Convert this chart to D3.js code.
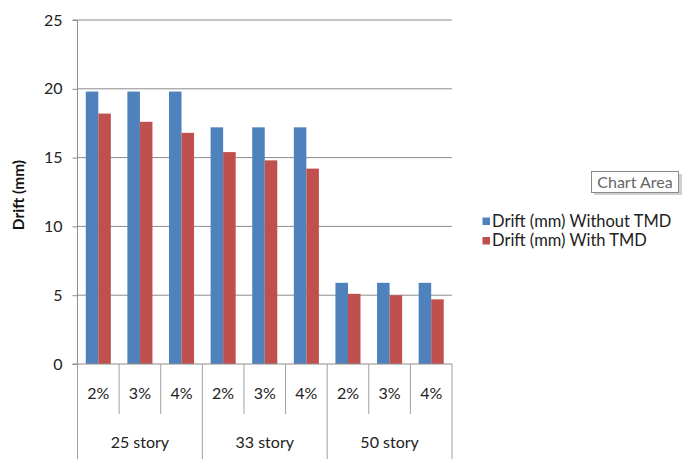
<!DOCTYPE html>
<html>
<head>
<meta charset="utf-8">
<script src="https://cdn.jsdelivr.net/npm/d3@7"></script>
<style>
  html, body { margin: 0; padding: 0; background: #fff; }
  svg { display: block; font-family: Lato, "Open Sans", sans-serif; }
</style>
</head>
<body>
<svg id="chart" width="689" height="459"></svg>
<script>
// Drift per building height and TMD mass ratio
const stories = ["25 story", "33 story", "50 story"];
const ratios = ["2%", "3%", "4%"];
const seriesNames = ["Drift (mm) Without TMD", "Drift (mm) With TMD"];
const withoutTMD = [19.8, 19.8, 19.8, 17.2, 17.2, 17.2, 5.9, 5.9, 5.9];
const withTMD = [18.2, 17.6, 16.8, 15.4, 14.8, 14.2, 5.1, 5.0, 4.7];
const yTicks = [0, 5, 10, 15, 20, 25];
const colors = ["#4F81BD", "#C0504D"];

const svg = d3.select("#chart");
const plot = { left: 77.5, right: 452, top: 20, bottom: 364 };
const textColor = "#222";
const fontSize = 16;

// one slot per (story, ratio) pair
const slots = [];
stories.forEach(s => ratios.forEach(r => slots.push(s + "|" + r)));

const x = d3.scaleBand().domain(slots).range([plot.left, plot.right]);
const y = d3.scaleLinear().domain([0, 25]).range([plot.bottom, plot.top]);
const inner = d3.scaleBand().domain([0, 1]).range([0, x.bandwidth()]).paddingInner(0).paddingOuter(0.66);

// horizontal gridlines
svg.append("g").selectAll("line").data(yTicks.filter(t => t > 0)).join("line")
  .attr("x1", plot.left).attr("x2", plot.right)
  .attr("y1", d => y(d)).attr("y2", d => y(d))
  .attr("stroke", "#8c8c8c").attr("stroke-width", 1);

// bars
const rows = slots.map((k, i) => ({ key: k, vals: [withoutTMD[i], withTMD[i]] }));
const groups = svg.append("g").selectAll("g").data(rows).join("g")
  .attr("transform", d => `translate(${x(d.key)},0)`);
groups.selectAll("rect").data(d => d.vals.map((v, j) => ({ v, j }))).join("rect")
  .attr("x", d => inner(d.j))
  .attr("width", inner.bandwidth())
  .attr("y", d => y(d.v))
  .attr("height", d => y(0) - y(d.v))
  .attr("fill", d => colors[d.j]);

// y axis
const yAxis = d3.axisLeft(y).tickValues(yTicks).tickSize(5).tickPadding(10);
const gy = svg.append("g").attr("transform", `translate(${plot.left},0)`).call(yAxis);
gy.select(".domain").attr("stroke", "#8c8c8c").attr("d", `M-5,${plot.top}H0V${plot.bottom}`);
gy.selectAll(".tick line").attr("stroke", "#8c8c8c");
gy.selectAll(".tick text").attr("font-size", fontSize).attr("fill", textColor).attr("font-family", "Lato, 'Open Sans', sans-serif");

// baseline
svg.append("line").attr("x1", plot.left - 5).attr("x2", plot.right)
  .attr("y1", plot.bottom).attr("y2", plot.bottom).attr("stroke", "#8c8c8c");

// multi-level category axis
const catRow = 414;
const axisG = svg.append("g");
slots.forEach((k, i) => {
  const isOuter = i % ratios.length === 0;
  axisG.append("line")
    .attr("x1", x(k)).attr("x2", x(k))
    .attr("y1", plot.bottom).attr("y2", isOuter ? 459 : catRow)
    .attr("stroke", "#a0a0a0");
});
axisG.append("line").attr("x1", plot.right).attr("x2", plot.right)
  .attr("y1", plot.bottom).attr("y2", 459).attr("stroke", "#a0a0a0");
// ratio labels
axisG.selectAll("text.ratio").data(slots).join("text")
  .attr("class", "ratio")
  .attr("x", d => x(d) + x.bandwidth() / 2)
  .attr("y", 399)
  .attr("text-anchor", "middle")
  .attr("font-size", fontSize).attr("fill", textColor)
  .text(d => d.split("|")[1]);
// story labels
axisG.selectAll("text.story").data(stories).join("text")
  .attr("class", "story")
  .attr("x", s => (x(s + "|" + ratios[0]) + x(s + "|" + ratios[ratios.length - 1]) + x.bandwidth()) / 2)
  .attr("y", 448)
  .attr("text-anchor", "middle")
  .attr("font-size", fontSize).attr("fill", textColor)
  .text(s => s);

// y title
svg.append("text")
  .attr("transform", "translate(24,195) rotate(-90)")
  .attr("text-anchor", "middle")
  .attr("font-size", 15.5).attr("font-weight", "bold").attr("fill", "#111")
  .text("Drift (mm)");

// legend
const legend = svg.append("g");
seriesNames.forEach((n, i) => {
  const ly = 221 + i * 19.5;
  legend.append("rect").attr("x", 482.5).attr("y", ly - 3.5).attr("width", 7.5).attr("height", 7.5).attr("fill", colors[i]);
  legend.append("text").attr("x", 492).attr("y", ly + 5.5)
    .attr("font-size", 16.5).attr("fill", textColor).text(n);
});

// hover tag box
const tag = svg.append("g");
tag.append("rect").attr("x", 594).attr("y", 174).attr("width", 88).attr("height", 21).attr("fill", "#d0d0d0");
tag.append("rect").attr("x", 591.5).attr("y", 171.5).attr("width", 87).attr("height", 21)
  .attr("fill", "#fff").attr("stroke", "#8a8a8a");
tag.append("text").attr("x", 635).attr("y", 188).attr("text-anchor", "middle")
  .attr("font-size", 16).attr("fill", "#666").text("Chart Area");
</script>
</body>
</html>
